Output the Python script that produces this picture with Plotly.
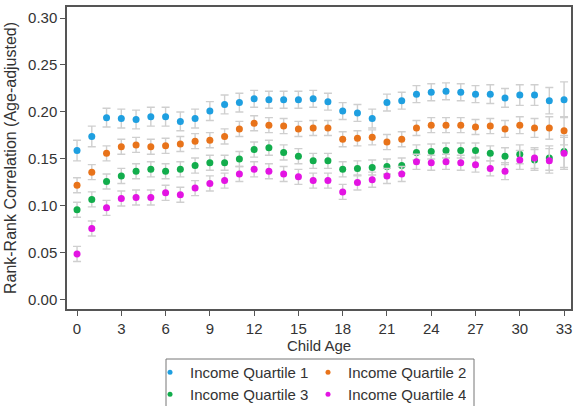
import plotly.graph_objects as go

# Child age (years)
ages = list(range(0, 34))

# Rank-rank correlation (age-adjusted) by parental income quartile
q1 = [0.159, 0.174, 0.194, 0.193, 0.192, 0.195, 0.195, 0.190, 0.193, 0.201,
      0.208, 0.210, 0.214, 0.213, 0.213, 0.213, 0.214, 0.211, 0.201, 0.199,
      0.193, 0.210, 0.212, 0.219, 0.221, 0.222, 0.221, 0.219, 0.219, 0.215,
      0.218, 0.218, 0.212, 0.213]
q2 = [0.122, 0.136, 0.156, 0.163, 0.165, 0.163, 0.164, 0.166, 0.169, 0.170,
      0.174, 0.182, 0.188, 0.186, 0.185, 0.182, 0.183, 0.183, 0.171, 0.172,
      0.173, 0.168, 0.171, 0.183, 0.186, 0.186, 0.186, 0.184, 0.185, 0.182,
      0.186, 0.183, 0.183, 0.180]
q3 = [0.096, 0.107, 0.126, 0.132, 0.137, 0.139, 0.137, 0.139, 0.143, 0.146,
      0.146, 0.150, 0.160, 0.162, 0.157, 0.153, 0.148, 0.148, 0.139, 0.140,
      0.141, 0.142, 0.143, 0.157, 0.158, 0.159, 0.159, 0.159, 0.156, 0.153,
      0.155, 0.149, 0.151, 0.158]
q4 = [0.049, 0.076, 0.098, 0.108, 0.109, 0.109, 0.114, 0.112, 0.119, 0.124,
      0.127, 0.134, 0.139, 0.137, 0.134, 0.131, 0.127, 0.127, 0.115, 0.125,
      0.128, 0.132, 0.134, 0.147, 0.146, 0.147, 0.146, 0.144, 0.140, 0.137,
      0.149, 0.151, 0.148, 0.156]

# 95% confidence half-widths
e1 = [0.011, 0.011, 0.010, 0.010, 0.010, 0.010, 0.010, 0.010, 0.010, 0.010,
      0.010, 0.010, 0.009, 0.009, 0.009, 0.009, 0.009, 0.009, 0.009, 0.009,
      0.010, 0.009, 0.009, 0.009, 0.009, 0.009, 0.009, 0.009, 0.010, 0.010,
      0.011, 0.011, 0.014, 0.019]
e2 = [0.008, 0.008, 0.008, 0.008, 0.008, 0.008, 0.008, 0.008, 0.008, 0.008,
      0.008, 0.008, 0.008, 0.008, 0.008, 0.008, 0.008, 0.008, 0.008, 0.008,
      0.008, 0.008, 0.008, 0.008, 0.008, 0.008, 0.008, 0.008, 0.008, 0.009,
      0.009, 0.010, 0.012, 0.015]
e3 = [0.008, 0.008, 0.008, 0.008, 0.008, 0.008, 0.008, 0.008, 0.008, 0.008,
      0.008, 0.008, 0.008, 0.008, 0.008, 0.008, 0.008, 0.008, 0.008, 0.008,
      0.008, 0.008, 0.008, 0.008, 0.008, 0.008, 0.008, 0.008, 0.008, 0.009,
      0.010, 0.011, 0.013, 0.017]
e4 = [0.008, 0.008, 0.008, 0.008, 0.008, 0.008, 0.008, 0.008, 0.008, 0.008,
      0.008, 0.008, 0.008, 0.008, 0.008, 0.008, 0.008, 0.008, 0.008, 0.008,
      0.008, 0.008, 0.008, 0.008, 0.008, 0.008, 0.008, 0.008, 0.008, 0.009,
      0.010, 0.011, 0.013, 0.017]

series_names = ["Income Quartile 1", "Income Quartile 2",
                "Income Quartile 3", "Income Quartile 4"]
series_colors = ["#1E9FE0", "#E8731A", "#12AD4C", "#E314E3"]
# legend row for each series (two entries per row)
legend_rows = ["legend", "legend", "legend2", "legend2"]

x_ticks = list(range(0, 34, 3))
y_ticks = [0.00, 0.05, 0.10, 0.15, 0.20, 0.25, 0.30]

FONT = "Liberation Sans, Arial, sans-serif"
TEXT = "#333333"

# figure geometry in pixels
W, H = 573, 406
ML, MR, MT, MB = 67, 2, 7, 97
PW, PH = W - ML - MR, H - MT - MB


def px_x(px):
    return (px - ML) / PW


def px_y(py):
    return (H - MB - py) / PH


fig = go.Figure()

for name, color, vals, errs in zip(series_names, series_colors,
                                   [q1, q2, q3, q4], [e1, e2, e3, e4]):
    fig.add_trace(go.Scatter(
        x=ages, y=vals, mode="markers", name=name, showlegend=False,
        marker=dict(color=color, size=7, line=dict(width=0)),
        error_y=dict(type="data", array=errs, visible=True,
                     color="#cfcfcf", thickness=1.4, width=4),
    ))

# Legend entries with small dot symbols
for name, color, lg in zip(series_names, series_colors, legend_rows):
    fig.add_trace(go.Scatter(
        x=[None], y=[None], mode="markers", name=name, legend=lg,
        marker=dict(color=color, size=5),
    ))

axis_common = dict(
    showline=True, linecolor="#555555", linewidth=1.5, mirror=True,
    ticks="outside", ticklen=5, tickcolor="#555555", tickwidth=1,
    showgrid=False, zeroline=False,
    tickfont=dict(family=FONT, size=15, color=TEXT),
)

legend_common = dict(
    orientation="h", x=px_x(150), xanchor="left", yanchor="top",
    borderwidth=0, bgcolor="rgba(0,0,0,0)",
    font=dict(family=FONT, size=15, color=TEXT),
    entrywidth=113, entrywidthmode="pixels", itemwidth=30,
)

fig.update_layout(
    width=W, height=H,
    margin=dict(l=ML, r=MR, t=MT, b=MB, autoexpand=False),
    plot_bgcolor="white", paper_bgcolor="white",
    font=dict(family=FONT, color=TEXT),
    xaxis=dict(
        **axis_common,
        range=[-0.68, 33.47], tickvals=x_ticks,
        title=dict(text="Child Age", standoff=0,
                   font=dict(family=FONT, size=15, color=TEXT)),
    ),
    yaxis=dict(
        **axis_common,
        range=[-0.0096, 0.3117], tickvals=y_ticks, tickformat=".2f",
        title=dict(text="Rank-Rank Correlation (Age-adjusted)", standoff=7,
                   font=dict(family=FONT, size=16, color=TEXT)),
    ),
    legend=dict(**legend_common, y=px_y(356)),
    legend2=dict(**legend_common, y=px_y(378)),
    shapes=[dict(
        type="rect", xref="paper", yref="paper",
        x0=px_x(166), x1=px_x(474), y0=px_y(359), y1=px_y(420),
        line=dict(color="#777777", width=1), fillcolor="rgba(0,0,0,0)",
        layer="below",
    )],
)

fig.write_html("out.html")
